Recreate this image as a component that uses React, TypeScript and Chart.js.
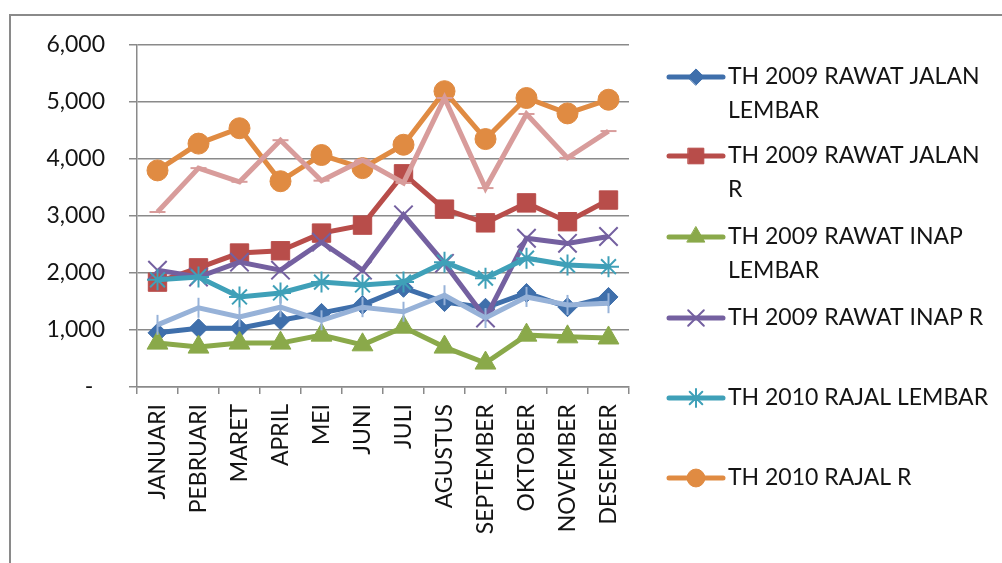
import React, { useEffect, useRef } from 'react';
import { Chart, registerables } from 'chart.js';
import { drawPoint } from 'chart.js/helpers';

Chart.register(...registerables);

const categories = ['JANUARI', 'PEBRUARI', 'MARET', 'APRIL', 'MEI', 'JUNI', 'JULI', 'AGUSTUS', 'SEPTEMBER', 'OKTOBER', 'NOVEMBER', 'DESEMBER'];

const rawatJalanLembar2009 = [950, 1030, 1030, 1170, 1300, 1440, 1740, 1490, 1390, 1650, 1400, 1580];
const rawatJalanR2009 = [1840, 2090, 2350, 2390, 2700, 2840, 3740, 3120, 2880, 3230, 2900, 3280];
const rawatInapLembar2009 = [770, 700, 770, 770, 910, 740, 1050, 700, 420, 910, 880, 860];
const rawatInapR2009 = [2050, 1930, 2190, 2050, 2540, 2050, 3020, 2170, 1210, 2610, 2520, 2640];
const rajalLembar2010 = [1880, 1930, 1580, 1650, 1840, 1790, 1840, 2190, 1910, 2260, 2140, 2110];
const rajalR2010 = [3800, 4270, 4540, 3610, 4070, 3840, 4250, 5190, 4350, 5070, 4800, 5040];
const ranapLembar2010 = [1090, 1390, 1230, 1400, 1170, 1400, 1320, 1610, 1210, 1580, 1440, 1470];
const ranapR2010 = [3070, 3840, 3600, 4330, 3620, 3980, 3580, 5070, 3490, 4790, 4020, 4490];

const seriesNames = [
  'TH 2009 RAWAT JALAN LEMBAR',
  'TH 2009 RAWAT JALAN R',
  'TH 2009 RAWAT INAP LEMBAR',
  'TH 2009 RAWAT INAP R',
  'TH 2010 RAJAL LEMBAR',
  'TH 2010 RAJAL R',
  'TH 2010 RANAP LEMBAR',
  'TH 2010 RANAP R',
];
const legendCount = 6;
const yTicks = [0, 1000, 2000, 3000, 4000, 5000, 6000];

const FONT = 'Lato';
const FONT_SIZE = 23;

const styles = [
  { color: '#3F6FAB', point: 'rectRot', r: 9.5, rot: 0, bw: 1 },
  { color: '#B84D4A', point: 'rect', r: 13, rot: 0, bw: 1 },
  { color: '#8AA94A', point: 'triangle', r: 12, rot: 0, bw: 1 },
  { color: '#7460A0', point: 'crossRot', r: 13, rot: 0, bw: 2 },
  { color: '#3FA0B8', point: 'star', r: 10.5, rot: 0, bw: 2 },
  { color: '#E08B42', point: 'circle', r: 10.5, rot: 0, bw: 1 },
  { color: '#97B2D8', point: 'line', r: 10, rot: 90, bw: 2 },
  { color: '#D89C9B', point: 'line', r: 8, rot: 0, bw: 2 },
];

const seriesData = [
  rawatJalanLembar2009,
  rawatJalanR2009,
  rawatInapLembar2009,
  rawatInapR2009,
  rajalLembar2010,
  rajalR2010,
  ranapLembar2010,
  ranapR2010,
];

const frameAndLegend = {
  id: 'frameAndLegend',
  beforeDraw(chart: any) {
    const ctx = chart.ctx;
    ctx.save();
    ctx.fillStyle = '#ffffff';
    ctx.fillRect(0, 0, chart.width, chart.height);
    ctx.strokeStyle = '#8a8a8a';
    ctx.lineWidth = 2;
    ctx.beginPath();
    ctx.moveTo(10, chart.height + 5);
    ctx.lineTo(10, 15);
    ctx.lineTo(chart.width + 5, 15);
    ctx.stroke();
    ctx.restore();
  },
  afterDraw(chart: any) {
    const ctx = chart.ctx;
    ctx.save();
    ctx.font = `${FONT_SIZE}px ${FONT}`;
    ctx.textBaseline = 'middle';
    ctx.textAlign = 'left';
    const lineX0 = 669;
    const lineX1 = 723;
    const textX = 728;
    const maxW = 263;
    const rowYs = [77, 156, 237, 318, 398, 478];
    for (let i = 0; i < legendCount; i++) {
      const s = styles[i];
      const y = rowYs[i];
      ctx.strokeStyle = s.color;
      ctx.lineWidth = 5;
      ctx.lineCap = 'round';
      ctx.beginPath();
      ctx.moveTo(lineX0, y);
      ctx.lineTo(lineX1, y);
      ctx.stroke();
      ctx.fillStyle = s.color;
      ctx.strokeStyle = s.color;
      ctx.lineWidth = s.bw;
      drawPoint(ctx, { pointStyle: s.point, rotation: s.rot, radius: s.r * 0.85, borderWidth: s.bw }, (lineX0 + lineX1) / 2, y);
      const words = seriesNames[i].split(' ');
      const lines: string[] = [];
      let cur = '';
      for (const w of words) {
        const t = cur ? cur + ' ' + w : w;
        if (ctx.measureText(t).width > maxW && cur) {
          lines.push(cur);
          cur = w;
        } else {
          cur = t;
        }
      }
      if (cur) lines.push(cur);
      ctx.fillStyle = '#141414';
      lines.forEach((ln, k) => ctx.fillText(ln, textX, y + k * 34));
    }
    ctx.restore();
  },
};

export default function App() {
  const ref = useRef<HTMLCanvasElement>(null);
  useEffect(() => {
    if (!ref.current) return;
    const n = seriesData.length;
    const chart = new Chart(ref.current, {
      type: 'line',
      data: {
        labels: categories,
        datasets: seriesData.map((d, i) => ({
          label: seriesNames[i],
          data: d,
          borderColor: styles[i].color,
          backgroundColor: styles[i].color,
          borderWidth: 5,
          tension: 0,
          pointStyle: styles[i].point as any,
          pointRotation: styles[i].rot,
          pointRadius: styles[i].r,
          pointBorderWidth: styles[i].bw,
          pointBorderColor: styles[i].color,
          pointBackgroundColor: styles[i].color,
          order: n - 1 - i,
        })),
      },
      options: {
        responsive: false,
        animation: false,
        events: [],
        layout: { padding: { left: 0, top: 45, right: 373, bottom: 0 } },
        plugins: {
          legend: { display: false },
          tooltip: { enabled: false },
          title: { display: false },
        },
        scales: {
          x: {
            type: 'category',
            offset: true,
            grid: { display: true, drawOnChartArea: false, drawTicks: true, tickLength: 7, offset: true, color: '#8a8a8a', lineWidth: 1.5 },
            border: { display: true, color: '#8a8a8a', width: 1.5 },
            ticks: {
              minRotation: 90,
              maxRotation: 90,
              autoSkip: false,
              padding: 10,
              color: '#141414',
              font: { family: FONT, size: FONT_SIZE },
            },
            afterFit: (scale: any) => { scale.height = 176; },
          },
          y: {
            min: 0,
            max: 6000,
            afterBuildTicks: (scale: any) => { scale.ticks = yTicks.map((v) => ({ value: v })); },
            grid: { color: '#8a8a8a', lineWidth: 1.5, tickLength: 8, drawTicks: true },
            border: { display: true, color: '#8a8a8a', width: 1.5 },
            ticks: {
              padding: 24,
              color: '#141414',
              font: { family: FONT, size: FONT_SIZE },
              callback: (v: any) => (Number(v) === 0 ? '-  ' : Number(v).toLocaleString('en-US')),
            },
            afterFit: (scale: any) => { scale.width = 137; },
          },
        },
      },
      plugins: [frameAndLegend],
    });
    return () => chart.destroy();
  }, []);
  return (
    <div style={{ position: 'absolute', left: 0, top: 0, width: 1002, height: 563, background: '#fff' }}>
      <canvas ref={ref} width={1002} height={563} style={{ display: 'block' }} />
    </div>
  );
}
